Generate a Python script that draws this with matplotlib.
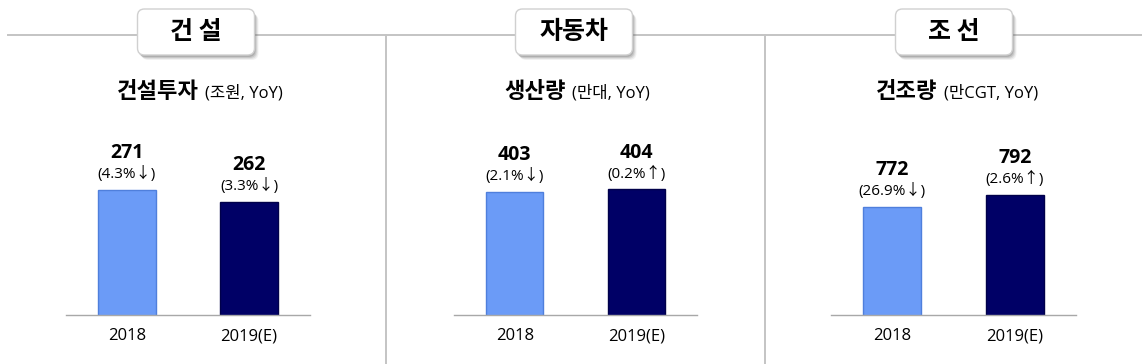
import numpy as np
import matplotlib.pyplot as plt
from matplotlib.patches import FancyBboxPatch

plt.rcParams['font.family'] = ['Open Sans', 'Noto Sans CJK KR', 'DejaVu Sans']

# data
sectors = ['건 설', '자동차', '조 선']
metrics = ['건설투자', '생산량', '건조량']
units = ['(조원, YoY)', '(만대, YoY)', '(만CGT, YoY)']
years = ['2018', '2019(E)']
values = [[271, 262], [403, 404], [772, 792]]
yoy_pct = [[4.3, 3.3], [2.1, 0.2], [26.9, 2.6]]
yoy_dir = [['↓', '↓'], ['↓', '↑'], ['↓', '↑']]
ylims = [(175, 317), (357.5, 426), (602, 894)]

bar_colors = ['#6b9bf7', '#000066']
edge_colors = ['#4f7fdc', '#00004a']

W, H = 1148, 364
fig = plt.figure(figsize=(W / 100, H / 100), dpi=100)

# background overlay in pixel coordinates
bg = fig.add_axes([0, 0, 1, 1], zorder=0)
bg.set_xlim(0, W)
bg.set_ylim(H, 0)
bg.axis('off')

bg.plot([8, 1141], [35, 35], color='#c4c4c4', lw=1.4, zorder=1)
for x in [385.5, 764.5]:
    bg.plot([x, x], [35, H], color='#c4c4c4', lw=1.4, zorder=1)

box_cx = [196, 574, 954]
sub_cx = [200, 577, 957]
bw, bh = 117, 46
for cx, name in zip(box_cx, sectors):
    # soft drop shadow
    for k, a in zip([5, 4, 3, 2], [0.07, 0.1, 0.14, 0.18]):
        sh = FancyBboxPatch((cx - bw / 2 + k - 1, 9 + k), bw, bh,
                            boxstyle='round,pad=0,rounding_size=7',
                            fc='#404040', ec='none', alpha=a, zorder=2)
        bg.add_patch(sh)
    box = FancyBboxPatch((cx - bw / 2, 9), bw, bh,
                         boxstyle='round,pad=0,rounding_size=7',
                         fc='white', ec='#d0d0d0', lw=1.0, zorder=3)
    bg.add_patch(box)
    bg.text(cx, 32, name, ha='center', va='center', fontsize=18,
            fontweight='bold', color='black', zorder=4,
            family=['Noto Sans CJK KR'])

# subtitles: bold metric + normal unit, centred as a group
renderer = fig.canvas.get_renderer()
for cx, m, u in zip(sub_cx, metrics, units):
    t1 = bg.text(0, 91, m, ha='left', va='center', fontsize=16,
                 fontweight='bold', color='black',
                 family=['Noto Sans CJK KR'])
    t2 = bg.text(0, 93, u, ha='left', va='center', fontsize=12,
                 color='black')
    w1 = t1.get_window_extent(renderer).width
    w2 = t2.get_window_extent(renderer).width
    gap = 6
    left = cx - (w1 + gap + w2) / 2
    t1.set_x(left)
    t2.set_x(left + w1 + gap)

# bar panels
lefts = [66, 454, 831]
rights = [310, 697, 1076]
base_y, top_y = 315, 130
for i in range(3):
    ax = fig.add_axes([lefts[i] / W, 1 - base_y / H,
                       (rights[i] - lefts[i]) / W, (base_y - top_y) / H],
                      zorder=5)
    ax.patch.set_alpha(0)
    x = np.arange(len(years))
    ax.bar(x, values[i], width=0.47, color=bar_colors,
           edgecolor=edge_colors, linewidth=1.0)
    ax.set_xlim(-0.5, 1.5)
    ax.set_ylim(*ylims[i])
    for s in ['top', 'left', 'right']:
        ax.spines[s].set_visible(False)
    ax.spines['bottom'].set_color('#a8a8a8')
    ax.spines['bottom'].set_linewidth(1.0)
    ax.set_yticks([])
    ax.set_xticks(x, years)
    ax.tick_params(axis='x', length=0, pad=9.5, labelsize=12)
    for j, v in enumerate(values[i]):
        ax.annotate(f'{v}', (j, v), xytext=(0, 26.5),
                    textcoords='offset points', ha='center', va='center',
                    fontsize=14, fontweight='bold', color='black')
        ax.annotate(f'({yoy_pct[i][j]}%{yoy_dir[i][j]})', (j, v),
                    xytext=(0, 11.5), textcoords='offset points',
                    ha='center', va='center', fontsize=11, color='black')

fig.savefig('out.png', dpi=100, facecolor='white')
